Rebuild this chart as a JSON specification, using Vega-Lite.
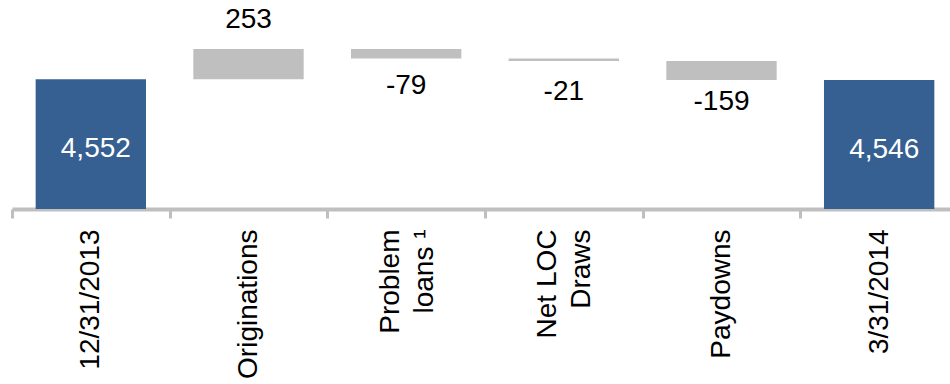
{
  "$schema": "https://vega.github.io/schema/vega-lite/v6.json",
  "width": 938,
  "height": 209,
  "autosize": {"type": "none"},
  "padding": {"left": 12, "top": 0, "right": 0, "bottom": 175},
  "background": "white",
  "config": {"view": {"stroke": null}, "font": "Liberation Sans"},
  "data": {
    "values": [
      {"cat": "12/31/2013", "kind": "total", "label": "4,552", "start": 0, "end": 4552},
      {"cat": "Originations", "kind": "change", "label": "253", "start": 4552, "end": 4805},
      {"cat": "Problem loans ¹", "kind": "change", "label": "-79", "start": 4805, "end": 4726},
      {"cat": "Net LOC Draws", "kind": "change", "label": "-21", "start": 4726, "end": 4705},
      {"cat": "Paydowns", "kind": "change", "label": "-159", "start": 4705, "end": 4546},
      {"cat": "3/31/2014", "kind": "total", "label": "4,546", "start": 0, "end": 4546}
    ]
  },
  "encoding": {
    "x": {
      "field": "cat",
      "type": "nominal",
      "sort": null,
      "scale": {"range": [0, 946], "paddingInner": 0, "paddingOuter": 0},
      "axis": {
        "title": null,
        "labelAngle": 270,
        "labelAlign": "right",
        "labelBaseline": "middle",
        "labelFontSize": 28,
        "labelFont": "Liberation Sans",
        "labelColor": "black",
        "labelPadding": 11,
        "labelLineHeight": 34,
        "labelLimit": 0,
        "labelOffset": {"condition": {"test": "datum.value == 'Problem loans ¹' || datum.value == 'Net LOC Draws'", "value": -16}, "value": 0},
        "labelExpr": "datum.value == 'Problem loans ¹' ? ['Problem', 'loans ¹'] : datum.value == 'Net LOC Draws' ? ['Net LOC', 'Draws'] : datum.value",
        "domainColor": "#bfbfbf",
        "domainWidth": 4,
        "tickColor": "#bfbfbf",
        "tickWidth": 3,
        "tickSize": 9,
        "tickBand": "extent"
      }
    }
  },
  "layer": [
    {
      "mark": {"type": "bar", "clip": true, "width": {"band": 0.7}},
      "encoding": {
        "y": {
          "field": "start",
          "type": "quantitative",
          "scale": {"domain": [3471, 5213], "zero": false, "nice": false},
          "axis": null
        },
        "y2": {"field": "end"},
        "color": {
          "field": "kind",
          "type": "nominal",
          "scale": {"domain": ["total", "change"], "range": ["#376092", "#bfbfbf"]},
          "legend": null
        }
      }
    },
    {
      "transform": [{"filter": "datum.kind == 'change' && datum.end > datum.start"}],
      "mark": {"type": "text", "fontSize": 28, "baseline": "alphabetic", "dy": -21, "color": "black"},
      "encoding": {
        "y": {"field": "end", "type": "quantitative"},
        "text": {"field": "label", "type": "nominal"}
      }
    },
    {
      "transform": [
        {"filter": "datum.kind == 'change' && datum.end < datum.start"},
        {"fold": ["start", "end"], "as": ["edge", "v"]},
        {"aggregate": [{"op": "mean", "field": "v", "as": "mid"}], "groupby": ["cat", "label"]}
      ],
      "mark": {"type": "text", "fontSize": 28, "baseline": "alphabetic", "dy": 40, "color": "black"},
      "encoding": {
        "y": {"field": "mid", "type": "quantitative"},
        "text": {"field": "label", "type": "nominal"}
      }
    },
    {
      "transform": [{"filter": "datum.kind == 'total'"}],
      "mark": {"type": "text", "fontSize": 28, "baseline": "alphabetic", "dy": 78, "dx": 5, "color": "white"},
      "encoding": {
        "y": {"field": "end", "type": "quantitative"},
        "text": {"field": "label", "type": "nominal"}
      }
    }
  ]
}
